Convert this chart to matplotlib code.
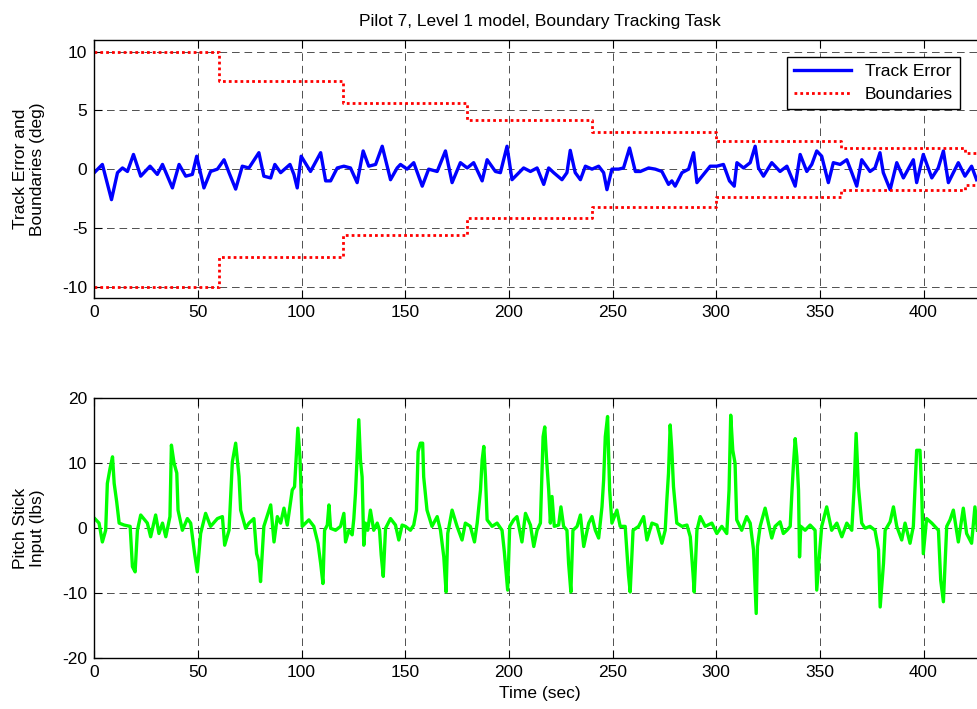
import numpy as np
import matplotlib.pyplot as plt

# track error (deg)
track_t = [0, 3.9, 8.3, 11.2, 13.6, 16, 18.9, 22.4, 26.9, 30.4, 32.9, 37.7, 40.9, 44.1, 47.3, 49.4,
           52.9, 56.1, 59.4, 62.6, 65, 68.2, 71.4, 74.6, 79.4, 81.8, 85.1, 87.1, 89.9, 94.4, 96.3,
           97.9, 99.8, 104.3,
           109.2, 111.6, 114, 117.2, 120.4, 123.6, 126.8, 129.7, 132.4, 135.7, 138.9, 142.9, 146.1,
           147.7, 150.9, 154.1, 158.2, 161.3, 165.4, 169.4, 172.6, 176.6, 179.9, 183, 187.1, 189.5,
           193.5, 195.9, 199.1, 201.5, 207.1,
           210.4, 213.6, 216.8, 219.2, 221.6, 225.6, 228, 229.6, 232, 234.5, 236.9, 240.1, 243.3,
           245.7, 247.3, 249.7, 252.9, 255.3, 258.2, 261, 263.4, 267.4, 270.6, 273.8, 277, 278.6,
           280.2, 283.5, 286.7, 289.1, 290.7, 293.9, 297.1, 300.3, 303.5, 306.4, 308.7, 310, 313.2,
           316.4, 318.8,
           320.4, 322.8, 326.8, 330.8, 334.1, 338.1, 340.5, 343.7, 346.1, 348.5, 350.9, 354.1, 356.5,
           359.8, 363, 365.4, 367.8, 370.2, 374.2, 376.6, 379, 380.6, 383.9, 387.1, 390.3, 395.1,
           396.7, 399.9, 404, 407.1, 409.6, 412, 416.8, 420, 423.2, 425.6]
track_err = [-0.3, 0.4, -2.6, -0.3, 0.1, -0.2, 1.25, -0.6, 0.25, -0.45, 0.4, -1.6, 0.4, -0.6, -0.45, 1.1,
             -1.6, -0.2, 0, 0.8, -0.3, -1.7, 0.25, 0.1, 1.4, -0.6, -0.75, 0.4, -0.3, 0.4, -0.45,
             -1.6, 1.1, -0.2,
             1.4, -1.0, -1.0, 0.1, 0.25, 0.1, -1.15, 1.55, 0.25, 0.4, 1.95, -0.9, 0.1,
             0.4, 0, 0.55, -1.45, 0, -0.2, 1.55, -1.15, 0.55, 0.1, 0.55, -1.0, 0.8,
             -0.2, -0.3, 1.95, -0.9, 0.1,
             -0.2, 0.1, -1.3, 0.1, -0.3, -0.9, -0.3, 1.6, -0.3, -0.9, 0.25, 0, 0.25,
             -0.3, -1.75, 0, 0, 0.1, 1.8, -0.2, -0.2, 0.1, 0, -0.2, -1.3, -1.0,
             -1.45, -0.3, 0, 1.4, -1.15, -0.45, 0.25, 0.25, 0.4, -1.0, -1.45, 0.55, 0.1,
             0.55, 1.95,
             0.1, -0.6, 0.55, -0.2, 0.25, -1.45, 1.25, -0.2, 0.4, 1.55, 1.1, -1.15, 0.55,
             0.4, 0.8, -0.3, -1.45, 0.8, -0.2, 0.1, 1.4, -0.3, -1.75, 0.55, -0.75, 0.8,
             -1.15, 1.25, -0.75, 0.1, 1.55, -1.15, 0.55, -0.6, 0.25, -0.9]

# boundary steps
bound_t = [0, 60, 120, 180, 240, 300, 360, 420, 430]
bound_hi = [10, 7.5, 5.6, 4.2, 3.2, 2.4, 1.8, 1.35, 1.35]

# pitch stick input (lbs), lower panel
stick_t = [0.2, 2.3, 3.9, 5.5, 6.3, 7.6, 8.8, 9.6, 10.8, 12, 14.4, 17.3, 18.4, 19.7, 20.8, 22.4,
           25.6, 27.2, 29.6, 31.2, 32.9, 34.5, 36.5, 37.2, 38.5, 39.8, 40.4, 42.5, 44.9, 46.5,
           48.4, 49.7, 51.3, 53.7, 56.1, 59.4, 61.8, 62.9, 65, 66.6, 68.2, 69.8, 70.6, 73, 74.6,
           77, 78.3, 79.4, 80.2, 81.8, 85.1, 86.7, 88.3, 89.9, 91.5, 93.1, 95.5, 96.6, 97.6, 98.2,
           99.2, 100.3, 103.5, 105.9,
           107.9, 109.2, 110.3, 111.1, 112.4, 113.2, 114, 116.4, 118.8, 120.4, 121.2, 122.8, 124.4,
           125.2, 126, 126.8, 127.6, 128.4, 129.2, 130, 130.8, 131.9, 133.2, 134.8, 136.5, 137.6,
           138.4, 139.4, 140.5, 142.9, 145.3, 146.9, 148.5, 150.1, 152.5, 154.1, 155.4, 156.2,
           157.3, 158.4, 158.9, 160.5, 162.9, 165.4, 167, 168.6, 169.7, 170.5, 172.6, 175, 177.4,
           179, 181.4, 183.4, 184.7, 186.3, 187.1, 187.9, 188.7, 189.5, 191.9, 194.3, 196.7, 197.8,
           199.4, 200.4, 202.3, 203.9, 206.3, 208,
           210.4, 212, 213.6, 215.2, 216.5, 217.3, 218.1, 219.2, 220, 220.8, 221.9, 224, 225.1,
           226.4, 228, 228.8, 229.9, 230.9, 232.9, 234.5, 236.1, 238.5, 240.1, 241.7, 243.3, 244.9,
           245.7, 246.5, 247.6, 248.6, 249.7, 252.1, 253.7, 256.1, 257.7, 258.5, 259.9, 262.6, 265,
           266.6, 269, 271.4, 273.8, 275.4, 276.2, 277, 277.8, 278.6, 279.4, 281, 283.5, 285.9,
           287.5, 288.8, 289.4, 290.7, 292.3, 294.7, 297.9, 300.3, 302.7, 305.1, 306.2, 307, 308,
           309.1, 309.9, 312.3, 314.7,
           316.4, 318, 319.3, 319.9, 321.2, 323.6, 325.2, 326.8, 328.4, 330.8, 332.4, 334.1, 335.7,
           336.5, 337.3, 338.1, 338.9, 339.7, 340.2, 340.8, 342.9, 345.3, 347.7, 348.5, 350.1,
           350.9, 353.3, 355.7, 358.2, 360.6, 363, 365.4, 366.5, 367.5, 368.6, 370.2, 371.8, 374.2,
           376.6, 378.3, 379.1, 380.7, 381.5, 383.9, 385.5, 387.1, 389.5, 391.1, 393.5, 395.1,
           396.7, 398.3, 399.1, 399.9, 401.5, 404, 407.2, 408.3, 409.6, 411.2, 412.8, 414.4, 416.8,
           419.2, 420.8, 423.2, 424.8, 426]
stick = [1.5, 0.8, -2.1, -0.3, 6.9, 9.2, 11.0, 6.9, 4.1, 0.8, 0.5, 0.3, -5.9, -6.7, -0.3, 2.05,
         0.8, -1.3, 2.05, -0.8, 0.8, -1.3, 1.8, 12.8, 10.0, 8.5, 2.8, -0.3, 1.5, 0.8,
         -3.9, -6.7, -0.8, 2.3, 0.3, 1.5, 1.8, -2.6, -0.3, 10.2, 13.1, 8.0, 2.8, 0, 0.8,
         1.5, -3.9, -5.1, -8.2, 0.3, 3.6, -2.1, 1.8, 0.8, 3.1, 0.5, 5.9, 6.4, 12.0, 15.4,
         11.0, 0.3, 1.3, 0.3,
         -2.3, -5.4, -8.5, -0.3, 0.5, 3.6, 0, -0.3, 0.3, 2.3, -2.1, -0.3, -1.0,
         1.5, 5.4, 11.0, 16.7, 10.5, 7.9, -2.6, 0.8, -0.3, 2.8, -0.3, 0.8, -0.3,
         -4.1, -7.4, 0, 1.5, 0.5, -1.8, 0.5, 0.3, -0.3, 0.5, 2.8, 11.8,
         13.1, 13.1, 7.9, 2.8, 0.3, 1.8, -0.3, -4.4, -9.8, -0.8, 2.8, 0.3, -1.8,
         0.8, 0.3, -2.1, 0.8, 5.9, 10.5, 12.6, 7.9, 1.3, 0.3, 0.8, -0.3, -3.6,
         -9.5, 0.3, 1.3, 1.8, -2.1, 2.3,
         0.5, -2.8, -0.3, 0.8, 14.1, 15.6, 11.0, 5.9, 0.8, 4.9, 0.3, 0.5, 3.3,
         0.3, -0.3, -5.4, -9.8, -0.3, 0.3, 2.05, -2.8, 0.8, 1.8, -0.3, -1.5, 3.3,
         7.4, 14.1, 17.2, 5.9, 0.8, 2.8, 0.3, 0.3, -7.2, -9.8, -0.3, 0.3, 1.8,
         -1.8, 0.8, 0.5, -2.3, -0.3, 4.4, 8.5, 15.9, 12.0, 6.4, 0.8, 0.3, 0.5,
         -1.3, -6.9, -9.8, -0.3, 1.8, 0.3, 0.8, -0.8, 0.3, -0.8, 5.9, 17.4, 12.0,
         10.0, 1.3, -0.3, 1.8,
         0.8, -3.3, -13.1, -2.8, 0.3, 3.1, 0.8, -1.5, 0.3, 1.0, -0.8, -0.3, 0.3,
         5.4, 10.0, 13.8, 11.0, 5.9, -4.4, 0.3, -0.3, 0.5, -0.3, -9.5, -2.8,
         0.3, 3.3, -0.3, 0.8, -1.3, 0.8, -0.3, 5.9, 14.6, 6.4, 0.8, 0, 0.3,
         -0.3, -3.3, -12.1, -5.4, -0.3, 1.0, 3.3, 0.3, -1.8, 0.8, -2.3, 0.3,
         12.0, 12.0, 5.9, -3.9, 1.5, 0.8, -0.3, -8.0, -11.3, 0.3, 1.3, 2.8, -2.1,
         3.1, -0.8, -2.3, 3.3, -0.3]

xticks = [0, 50, 100, 150, 200, 250, 300, 350, 400]

plt.rcParams['font.family'] = ['Liberation Sans', 'DejaVu Sans']
plt.rcParams['font.size'] = 12.5
plt.rcParams['lines.scale_dashes'] = False
plt.rcParams['axes.unicode_minus'] = False

fig = plt.figure(figsize=(9.77, 7.09), dpi=100)
ax1 = fig.add_axes([0.0965, 0.5793, 0.9124, 0.3643])
ax2 = fig.add_axes([0.0965, 0.0715, 0.9124, 0.3667])

grid_style = dict(linestyle=(0, (5.5, 3.5)), color='0.2', linewidth=0.6)

# upper panel
ax1.plot(track_t, track_err, color='blue', lw=2.4, label='Track Error')
ax1.step(bound_t, bound_hi, where='post', color='red', lw=2,
         linestyle=(0, (2.0, 2.2)), label='Boundaries')
ax1.step(bound_t, -np.array(bound_hi), where='post', color='red', lw=2,
         linestyle=(0, (2.0, 2.2)))
ax1.set_xlim(0, 430)
ax1.set_ylim(-11, 11)
ax1.set_yticks([-10, -5, 0, 5, 10])
ax1.set_title('Pilot 7, Level 1 model, Boundary Tracking Task', fontsize=12.5, pad=10)
ax1.set_ylabel('Track Error and\nBoundaries (deg)')
ax1.legend(loc='upper right', bbox_to_anchor=(960 / 977, 1 - 56.7 / 709),
           bbox_transform=fig.transFigure, borderaxespad=0, fancybox=False,
           edgecolor='black', framealpha=1, handlelength=3.3, labelspacing=0.45)

# lower panel
ax2.plot(stick_t, stick, color=(0, 1, 0), lw=2.4)
ax2.set_xlim(0, 430)
ax2.set_ylim(-20, 20)
ax2.set_yticks([-20, -10, 0, 10, 20])
ax2.set_xlabel('Time (sec)')
ax2.set_ylabel('Pitch Stick\nInput (lbs)')

for ax in (ax1, ax2):
    ax.set_xticks(xticks)
    ax.grid(True, **grid_style)
    ax.tick_params(direction='in', top=True, right=True, length=6, width=0.8, pad=5)
    for s in ax.spines.values():
        s.set_linewidth(1.0)
    ax.yaxis.set_label_coords(-0.055, 0.5)

fig.savefig('out.png', dpi=100)
